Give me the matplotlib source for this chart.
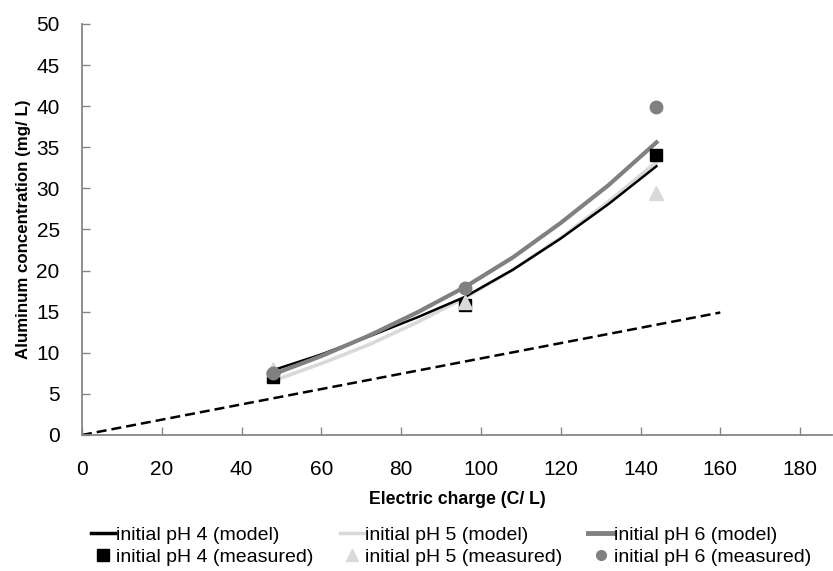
import matplotlib
matplotlib.use("Agg")
import matplotlib.pyplot as plt
from matplotlib.lines import Line2D

plt.rcParams['font.family'] = ['Liberation Sans', 'DejaVu Sans']

# measured points
charge_meas = [48, 96, 144]
ph4_meas = [7.1, 15.8, 34.1]
ph5_meas = [8.0, 16.2, 29.4]
ph6_meas = [7.5, 17.9, 39.9]

# model curves
charge_model = [48, 60, 72, 84, 96, 108, 120, 132, 144]
ph4_model = [7.9, 9.8, 12.0, 14.3, 16.8, 20.1, 23.9, 28.1, 32.7]
ph5_model = [6.6, 8.7, 11.0, 13.7, 16.7, 20.1, 24.0, 28.4, 33.2]
ph6_model = [7.4, 9.6, 12.1, 14.9, 18.0, 21.6, 25.8, 30.4, 35.6]

# theoretical (Faraday) line
charge_theo = [0, 160]
al_theo = [0, 14.9]

DARK = "#000000"
LIGHT = "#d9d9d9"
MID = "#808080"
AXIS = "#868686"

fig = plt.figure(figsize=(8.33, 5.71), dpi=100)
ax = fig.add_axes([0.0984, 0.2382, 0.9004, 0.7198])

ax.plot(charge_theo, al_theo, color=DARK, lw=1.8, ls=(0, (4, 2)), zorder=2)
ax.plot(charge_model, ph5_model, color=LIGHT, lw=2.6, zorder=3,
        solid_joinstyle='round')
ax.plot(charge_model, ph4_model, color=DARK, lw=1.8, zorder=4,
        solid_joinstyle='round')
ax.plot(charge_model, ph6_model, color=MID, lw=3.0, zorder=5,
        solid_joinstyle='round')

ax.plot(charge_meas, ph4_meas, ls='none', marker='s', ms=9, color=DARK, zorder=6)
ax.plot(charge_meas, ph5_meas, ls='none', marker='^', ms=10, color=LIGHT, zorder=7)
ax.plot(charge_meas, ph6_meas, ls='none', marker='o', ms=9, color=MID, zorder=8)

ax.set_xlim(0, 188)
ax.set_ylim(0, 50)
ax.set_xticks(range(0, 181, 20))
ax.set_yticks(range(0, 51, 5))

for s in ['top', 'right']:
    ax.spines[s].set_visible(False)
for s in ['left', 'bottom']:
    ax.spines[s].set_color(AXIS)
    ax.spines[s].set_linewidth(1.3)
ax.tick_params(direction='in', length=6, width=1, color=AXIS, labelsize=15)
ax.tick_params(axis='y', pad=16)
ax.tick_params(axis='x', pad=18)

ax.set_xlabel('Electric charge (C/ L)', fontsize=12.7, fontweight='bold', labelpad=9)
ax.set_ylabel('Aluminum concentration (mg/ L)', fontsize=12.2, fontweight='bold', labelpad=4)

handles = [
    Line2D([], [], color=DARK, lw=2.5),
    Line2D([], [], ls='none', marker='s', ms=9, color=DARK),
    Line2D([], [], color=LIGHT, lw=2.5),
    Line2D([], [], ls='none', marker='^', ms=9, color=LIGHT),
    Line2D([], [], color=MID, lw=3.5),
    Line2D([], [], ls='none', marker='o', ms=7, color=MID),
]
labels = ['initial pH 4 (model)', 'initial pH 4 (measured)',
          'initial pH 5 (model)', 'initial pH 5 (measured)',
          'initial pH 6 (model)', 'initial pH 6 (measured)']
fig.legend(handles, labels, ncol=3, loc='lower left',
           bbox_to_anchor=(0.088, -0.022), frameon=False, fontsize=14,
           handlelength=1.25, handletextpad=0.05, columnspacing=1.35,
           labelspacing=0.25)

fig.savefig('out.png', dpi=100)
